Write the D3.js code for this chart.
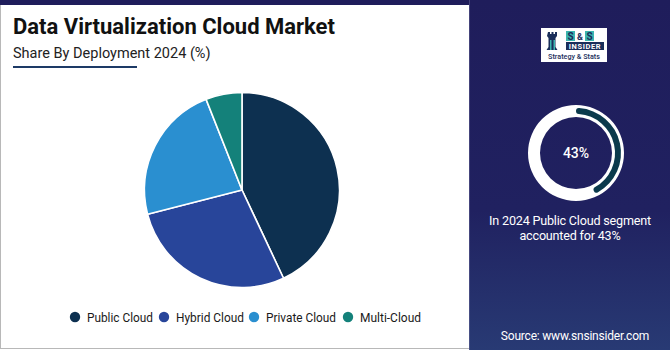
<!DOCTYPE html>
<html><head><meta charset="utf-8">
<script src="https://cdn.jsdelivr.net/npm/d3@7"></script>
<style>html,body{margin:0;padding:0;background:#fff;}svg{display:block;font-family:Roboto,"Open Sans",sans-serif;}</style>
</head><body>
<script>
const categories = ["Public Cloud", "Hybrid Cloud", "Private Cloud", "Multi-Cloud"];
const shares = [43, 28, 23, 6];
const colors = ["#0d3050", "#28459a", "#2a8fd0", "#14817a"];
const highlightValue = 43;
const titleText = "Data Virtualization Cloud Market";
const subtitleText = "Share By Deployment 2024 (%)";
const noteLines = ["In 2024 Public Cloud segment", "accounted for 43%"];
const sourceText = "Source: www.snsinsider.com";

const W = 670, H = 350;
const svg = d3.select("body").append("svg").attr("width", W).attr("height", H);
const defs = svg.append("defs");
const grad = defs.append("linearGradient").attr("id","rg").attr("x1",0).attr("y1",0).attr("x2",0).attr("y2",1);
grad.append("stop").attr("offset","0%").attr("stop-color","#1f1d5b");
grad.append("stop").attr("offset","60%").attr("stop-color","#202160");
grad.append("stop").attr("offset","100%").attr("stop-color","#283a74");

// Background frame
svg.append("rect").attr("x",0).attr("y",0).attr("width",W).attr("height",H).attr("fill","#fff");
svg.append("rect").attr("x",0.5).attr("y",4).attr("width",469).attr("height",344.5).attr("fill","#fff").attr("stroke","#b8b8b8").attr("stroke-width",1);
svg.append("rect").attr("x",0).attr("y",0).attr("width",W).attr("height",5).attr("fill","#1f1d5b");
svg.append("rect").attr("x",469).attr("y",0).attr("width",W-469).attr("height",H).attr("fill","url(#rg)");
svg.append("rect").attr("x",469).attr("y",0).attr("width",1).attr("height",H).attr("fill","#6a6a9a").attr("opacity",0.5);

// Titles
svg.append("text").attr("x",13).attr("y",34).text(titleText)
  .attr("font-size",22).attr("font-weight",700).attr("fill","#111");
svg.append("text").attr("x",13).attr("y",58).text(subtitleText)
  .attr("font-size",14.5).attr("fill","#222");
svg.append("line").attr("x1",13).attr("x2",137).attr("y1",67).attr("y2",67).attr("stroke","#1d3a66").attr("stroke-width",2);

// Pie
const cx = 242, cy = 190, R = 97.5;
const pie = d3.pie().sort(null).value(d => d)(shares);
const arc = d3.arc().innerRadius(0).outerRadius(R);
const g = svg.append("g").attr("transform",`translate(${cx},${cy})`);
g.selectAll("path").data(pie).join("path")
  .attr("d", arc).attr("fill",(d,i)=>colors[i])
  .attr("stroke","#fff").attr("stroke-width",1.6).attr("stroke-linejoin","round");

// Legend
const legendX = [75, 164, 254, 348];
const legendW = [66, 68, 70, 61];
const lg = svg.append("g");
categories.forEach((c,i)=>{
  lg.append("circle").attr("cx",legendX[i]).attr("cy",317).attr("r",5.2).attr("fill",colors[i]);
  lg.append("text").attr("x",legendX[i]+12).attr("y",321.5).text(c).attr("font-size",13.5).attr("fill","#1a1a1a")
    .attr("textLength",legendW[i]).attr("lengthAdjust","spacingAndGlyphs");
});

// Logo
const logo = svg.append("g").attr("transform","translate(541,28)");
logo.append("rect").attr("x",0).attr("y",0).attr("width",66).attr("height",34).attr("fill","#fff");
logo.append("path").attr("d","M7,4 h2 v2 h1.5 v-2 h2 v2 h1.5 v-2 h2 v4 l-1.5,2 v9 l2,3 h-11 l2,-3 v-9 l-1.5,-2 z").attr("fill","#1a2e5a");
logo.append("rect").attr("x",9).attr("y",12).attr("width",1.5).attr("height",10).attr("fill","#3cb6b0");
logo.append("rect").attr("x",12.5).attr("y",12).attr("width",1.5).attr("height",10).attr("fill","#3cb6b0");
logo.append("rect").attr("x",25).attr("y",3).attr("width",9).attr("height",10).attr("fill","#3cb6b0");
logo.append("rect").attr("x",44).attr("y",3).attr("width",9).attr("height",10).attr("fill","#3cb6b0");
logo.append("text").attr("x",29.5).attr("y",11.5).attr("text-anchor","middle").text("S").attr("font-size",10).attr("font-weight",700).attr("fill","#1a2e5a");
logo.append("text").attr("x",39).attr("y",11.5).attr("text-anchor","middle").text("&").attr("font-size",9).attr("font-weight",700).attr("fill","#1a2e5a");
logo.append("text").attr("x",48.5).attr("y",11.5).attr("text-anchor","middle").text("S").attr("font-size",10).attr("font-weight",700).attr("fill","#1a2e5a");
logo.append("rect").attr("x",25).attr("y",14).attr("width",38).attr("height",8).attr("fill","#1a2e5a");
logo.append("text").attr("x",44).attr("y",20.8).attr("text-anchor","middle").text("INSIDER").attr("font-size",7.5).attr("font-weight",700).attr("fill","#fff").attr("letter-spacing",0.6);
logo.append("text").attr("x",33).attr("y",31).attr("text-anchor","middle").text("Strategy & Stats").attr("font-size",7.2).attr("font-weight",500).attr("fill","#1a2e5a");

// Donut highlight
const dcx = 576, dcy = 153;
const rg = svg.append("g").attr("transform",`translate(${dcx},${dcy})`);
rg.append("path").attr("d", d3.arc().innerRadius(36).outerRadius(48).startAngle(0).endAngle(2*Math.PI)()).attr("fill","#fff");
const hiAngle = highlightValue/100*2*Math.PI;
rg.append("path").attr("d", d3.arc().innerRadius(39).outerRadius(45).startAngle(0).endAngle(hiAngle).cornerRadius(3)()).attr("fill","#0b3a4c");
rg.append("text").attr("x",0).attr("y",5).attr("text-anchor","middle").text(highlightValue+"%")
  .attr("font-size",14).attr("font-weight",500).attr("fill","#fff");

// Note
noteLines.forEach((t,i)=>{
  svg.append("text").attr("x",570).attr("y",225+i*14.5).attr("text-anchor","middle").text(t)
    .attr("font-size",12.6).attr("fill","#fff").attr("letter-spacing",-0.2);
});
svg.append("text").attr("x",575).attr("y",340).attr("text-anchor","middle").text(sourceText)
  .attr("font-size",12).attr("fill","#fff").attr("letter-spacing",-0.2);
</script>
</body></html>
